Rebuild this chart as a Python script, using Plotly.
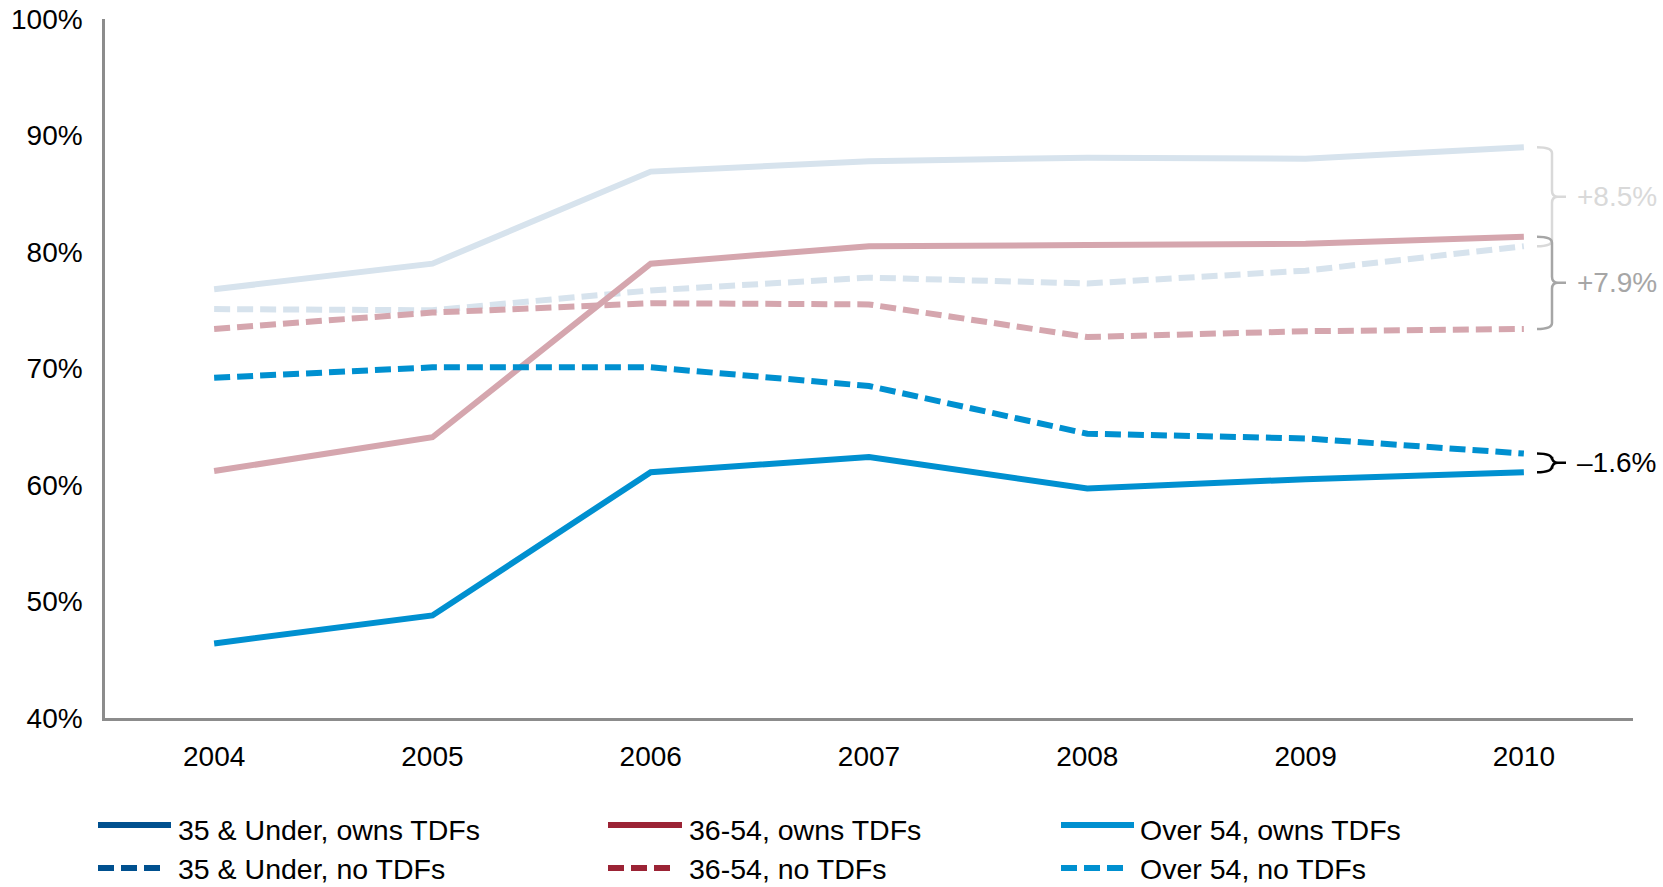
import plotly.graph_objects as go

# Years on the x axis
years = ["2004", "2005", "2006", "2007", "2008", "2009", "2010"]

# Share of participants (percent) by age group and TDF ownership
under35_owns = [76.8, 79.0, 86.9, 87.8, 88.1, 88.0, 89.0]
under35_no = [75.1, 75.0, 76.7, 77.8, 77.3, 78.4, 80.5]
mid_owns = [61.2, 64.1, 79.0, 80.5, 80.6, 80.7, 81.3]
mid_no = [73.4, 74.8, 75.6, 75.5, 72.7, 73.2, 73.4]
over54_owns = [46.4, 48.8, 61.1, 62.4, 59.7, 60.5, 61.1]
over54_no = [69.2, 70.1, 70.1, 68.5, 64.4, 64.0, 62.7]

series_names = [
    "35 & Under, owns TDFs", "36-54, owns TDFs", "Over 54, owns TDFs",
    "35 & Under, no TDFs", "36-54, no TDFs", "Over 54, no TDFs",
]

y_ticks = [40, 50, 60, 70, 80, 90, 100]

# Figure geometry (pixels)
W, H = 1663, 887
ML, MR, MT, MB = 105, 30, 19, 169
PW = W - ML - MR
PH = H - MT - MB
Y0, Y1 = 40, 100
FONT = "Liberation Sans, Arial, sans-serif"

# Colours: full tone for the legend, muted tones for de-emphasised lines
navy, red, blue = "#00508F", "#9B2335", "#0090D0"
navy_soft, red_soft = "#D7E3ED", "#D5A6AE"
DASH = "16px,7px"
LW = 6


def px_x(px):
    return (px - ML) / PW


def px_y(py):
    return (H - MB - py) / PH


fig = go.Figure()

traces = [
    (under35_no, navy_soft, DASH, series_names[3]),
    (under35_owns, navy_soft, "solid", series_names[0]),
    (mid_no, red_soft, DASH, series_names[4]),
    (mid_owns, red_soft, "solid", series_names[1]),
    (over54_no, blue, DASH, series_names[5]),
    (over54_owns, blue, "solid", series_names[2]),
]
for vals, col, dash, name in traces:
    fig.add_trace(go.Scatter(
        x=years, y=vals, mode="lines", name=name,
        line=dict(color=col, width=LW, dash=dash),
        showlegend=False, hoverinfo="x+y+name",
    ))

shapes = []
annotations = []

# Curly braces showing the 2010 gap between owners and non-owners
r_y = 6 * (Y1 - Y0) / PH
bx0, bx1, bxt, bx2 = px_x(1537), px_x(1552), px_x(1558), px_x(1566)
brace_sets = [
    (under35_owns[-1], under35_no[-1], "#D9D9D9"),
    (mid_owns[-1], mid_no[-1], "#A6A6A6"),
    (over54_owns[-1], over54_no[-1], "#000000"),
]
for owns, no, col in brace_sets:
    yt, yb = max(owns, no), min(owns, no)
    ym = (yt + yb) / 2
    path = (
        f"M {bx0},{yt} Q {bx1},{yt} {bx1},{yt - r_y} "
        f"L {bx1},{ym + r_y} Q {bx1},{ym} {bxt},{ym} L {bx2},{ym} "
        f"M {bxt},{ym} Q {bx1},{ym} {bx1},{ym - r_y} "
        f"L {bx1},{yb + r_y} Q {bx1},{yb} {bx0},{yb}"
    )
    shapes.append(dict(type="path", path=path, xref="paper", yref="y",
                       line=dict(color=col, width=2.5)))
    diff = owns - no
    label = f"+{diff:.1f}%" if diff >= 0 else f"\u2013{abs(diff):.1f}%"
    annotations.append(dict(
        x=px_x(1575), y=ym, xref="paper", yref="y", text=label,
        showarrow=False, xanchor="left", yanchor="middle",
        font=dict(family=FONT, size=28, color=col),
    ))

# Legend drawn as line samples plus labels, three columns by two rows
legend_cols = [(98, 171, 176), (608, 682, 687), (1061, 1134, 1138)]
legend_rows = [(825, 830, "solid"), (868, 869, "dash")]
legend_colors = [navy, red, blue]
for ri, (row_y, text_y, style) in enumerate(legend_rows):
    for ci, (lx0, lx1, tx) in enumerate(legend_cols):
        name = series_names[ri * 3 + ci]
        yy = px_y(row_y)
        if style == "solid":
            shapes.append(dict(type="line", xref="paper", yref="paper",
                               x0=px_x(lx0), x1=px_x(lx1), y0=yy, y1=yy,
                               line=dict(color=legend_colors[ci], width=6)))
        else:
            shapes.append(dict(type="line", xref="paper", yref="paper",
                               x0=px_x(lx0), x1=px_x(lx0 + 62), y0=yy, y1=yy,
                               line=dict(color=legend_colors[ci], width=6,
                                         dash="16px,7px")))
        annotations.append(dict(
            x=px_x(tx), y=px_y(text_y), xref="paper", yref="paper",
            text=name, showarrow=False, xanchor="left", yanchor="middle",
            font=dict(family=FONT, size=28.5, color="#000000"),
        ))

fig.update_layout(
    width=W, height=H,
    margin=dict(l=ML, r=MR, t=MT, b=MB, pad=0, autoexpand=False),
    paper_bgcolor="white", plot_bgcolor="white",
    font=dict(family=FONT, size=28, color="#000000"),
    showlegend=False,
    shapes=shapes,
    annotations=annotations,
    xaxis=dict(
        type="category", range=[-0.5, 6.5], automargin=False,
        showgrid=False, zeroline=False,
        showline=True, linecolor="#8C8C8C", linewidth=2.5,
        ticks="", ticklabelstandoff=12,
        tickfont=dict(family=FONT, size=28, color="#000000"),
    ),
    yaxis=dict(
        range=[Y0, Y1], tickvals=y_ticks, automargin=False,
        ticktext=[f"{v}%" for v in y_ticks],
        showgrid=False, zeroline=False,
        showline=True, linecolor="#8C8C8C", linewidth=2.5,
        ticks="", ticklabelstandoff=14,
        tickfont=dict(family=FONT, size=28, color="#000000"),
    ),
)

fig.write_html("out.html")
